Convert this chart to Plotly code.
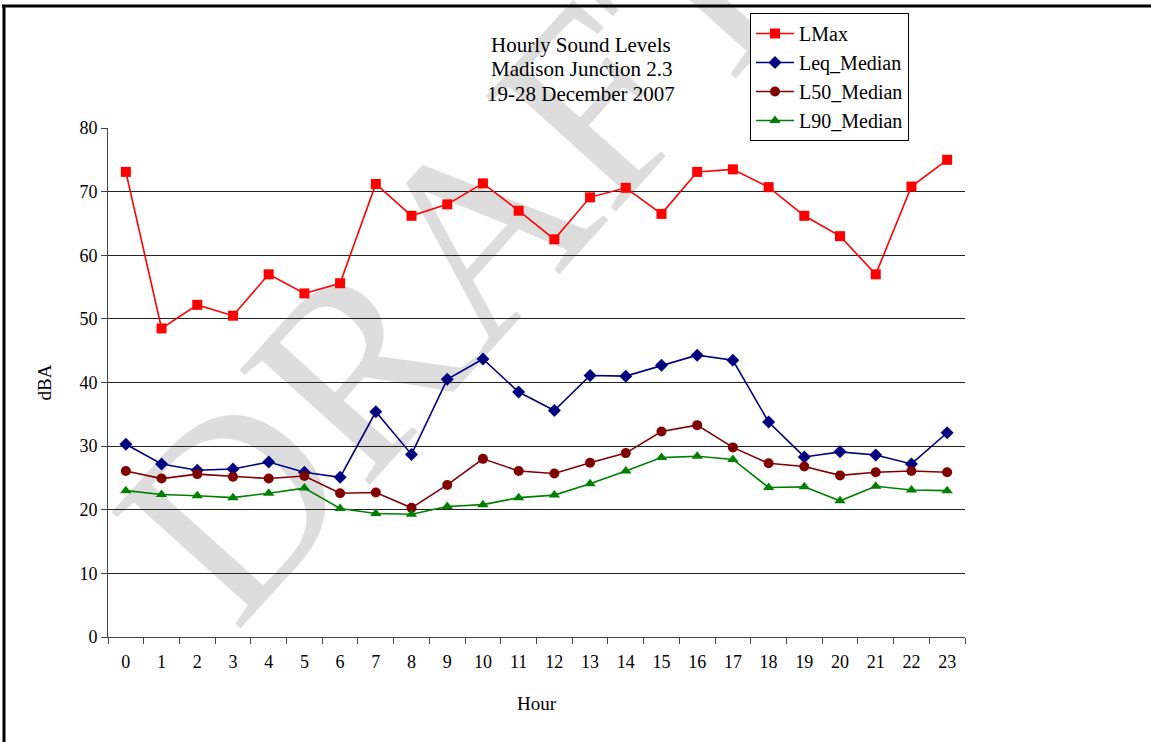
import plotly.graph_objects as go

hours = [str(h) for h in range(24)]
lmax = [73.1, 48.5, 52.2, 50.5, 57.0, 54.0, 55.6, 71.2, 66.2, 68.0, 71.3, 67.0,
        62.5, 69.1, 70.6, 66.5, 73.1, 73.5, 70.7, 66.2, 63.0, 57.0, 70.8, 75.0]
leq = [30.3, 27.2, 26.2, 26.4, 27.5, 25.9, 25.1, 35.4, 28.7, 40.5, 43.7, 38.5,
       35.6, 41.1, 41.0, 42.7, 44.3, 43.5, 33.8, 28.3, 29.1, 28.6, 27.2, 32.1]
l50 = [26.1, 24.9, 25.6, 25.2, 24.9, 25.3, 22.6, 22.7, 20.3, 23.9, 28.0, 26.1,
       25.7, 27.4, 28.9, 32.3, 33.3, 29.8, 27.3, 26.8, 25.4, 25.9, 26.1, 25.9]
l90 = [23.0, 22.4, 22.2, 21.9, 22.6, 23.4, 20.2, 19.4, 19.3, 20.5, 20.8, 21.9,
       22.3, 24.1, 26.1, 28.2, 28.4, 27.9, 23.5, 23.6, 21.4, 23.7, 23.1, 23.0]
y_ticks = [0, 10, 20, 30, 40, 50, 60, 70, 80]
title_lines = ["Hourly Sound Levels", "Madison Junction 2.3", "19-28 December 2007"]

FONT = "Liberation Serif"
W, H = 1151, 742
L, R, T, B = 108, 186, 128, 105
PW, PH = W - L - R, H - T - B

def px(x):
    return (x - L) / PW

def py(y):
    return (H - B - y) / PH

fig = go.Figure()
series = [
    ("LMax", lmax, "#FF0000", "square", 10),
    ("Leq_Median", leq, "#000080", "diamond", 10),
    ("L50_Median", l50, "#800000", "circle", 10),
    ("L90_Median", l90, "#008000", "triangle-up", 10),
]
for name, vals, col, sym, sz in series:
    fig.add_trace(go.Scatter(
        x=hours, y=vals, name=name, mode="lines+markers",
        line=dict(color=col, width=1.6),
        marker=dict(symbol=sym, size=sz, color=col, line=dict(width=0)),
    ))

shapes = [
    # watermark carrier
    dict(type="rect", xref="paper", yref="paper",
         x0=px(138), x1=px(738), y0=py(522), y1=py(-58),
         line=dict(width=0), fillcolor="rgba(0,0,0,0)", layer="below",
         label=dict(text="DRAFT", textangle=-48, textposition="middle center",
                    font=dict(family=FONT, size=265, color="#dddddd"))),
    # frame
    dict(type="line", xref="paper", yref="paper", x0=px(2), x1=px(1160),
         y0=py(6), y1=py(6), line=dict(color="black", width=3)),
    dict(type="line", xref="paper", yref="paper", x0=px(4), x1=px(4),
         y0=py(5), y1=py(760), line=dict(color="black", width=3)),
]

annotations = []
for txt, yc in zip(title_lines, [45, 69, 94]):
    annotations.append(dict(text=txt, xref="paper", yref="paper", x=px(581), y=py(yc),
                            xanchor="center", yanchor="middle", showarrow=False,
                            font=dict(family=FONT, size=21)))

fig.update_layout(
    width=W, height=H,
    margin=dict(l=L, r=R, t=T, b=B),
    paper_bgcolor="white", plot_bgcolor="white",
    font=dict(family=FONT, color="black", size=18),
    shapes=shapes,
    showlegend=True,
    legend=dict(x=px(750), y=py(13), xanchor="left", yanchor="top",
                bordercolor="black", borderwidth=1, bgcolor="white",
                font=dict(family=FONT, size=20), tracegroupgap=0, itemwidth=38),
    annotations=annotations,
)
fig.update_xaxes(
    type="category", range=[-0.5, 23.5],
    showgrid=False, showline=True, linecolor="#444", linewidth=1,
    ticks="outside", ticklen=6, tickcolor="#444", tickson="boundaries",
    tickfont=dict(size=18), ticklabelstandoff=8,
    title=dict(text="Hour", font=dict(size=19), standoff=26),
)
fig.update_yaxes(
    range=[0, 80], tickvals=y_ticks,
    showgrid=True, gridcolor="#222", gridwidth=1,
    showline=True, linecolor="#444", linewidth=1,
    ticks="outside", ticklen=6, tickcolor="#444",
    tickfont=dict(size=18), zeroline=False,
    title=dict(text="dBA", font=dict(size=19), standoff=22),
)
fig.write_html("out.html", post_script="document.body.style.margin='0';",
               config={"displayModeBar": False})
